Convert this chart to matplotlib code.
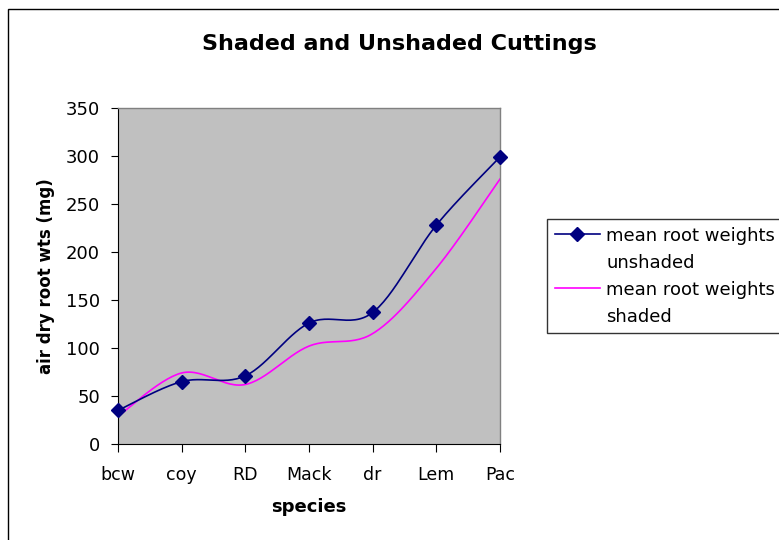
import numpy as np
import matplotlib
matplotlib.use("Agg")
import matplotlib.pyplot as plt
from matplotlib.patches import Rectangle
from matplotlib.lines import Line2D

categories = ["bcw", "coy", "RD", "Mack", "dr", "Lem", "Pac"]
unshaded = [35, 65, 71, 126, 137, 228, 299]
shaded = [29, 74, 62, 102, 115, 183, 276]
yticks = [0, 50, 100, 150, 200, 250, 300, 350]

plt.rcParams['font.family'] = ['DejaVu Sans']


def smooth(xs, ys, n=30):
    # Excel-style smoothed line: cubic Bezier with Catmull-Rom control points
    xs = np.asarray(xs, float)
    ys = np.asarray(ys, float)
    P = np.column_stack([xs, ys])
    m = len(P)
    out = [P[0]]
    t = np.linspace(0, 1, n)[1:]
    for i in range(m - 1):
        p0 = P[i - 1] if i > 0 else P[i]
        p3 = P[i + 2] if i + 2 < m else P[i + 1]
        c1 = P[i] + (P[i + 1] - p0) / 6.0
        c2 = P[i + 1] - (p3 - P[i]) / 6.0
        seg = ((1 - t) ** 3)[:, None] * P[i] + (3 * (1 - t) ** 2 * t)[:, None] * c1 \
            + (3 * (1 - t) * t ** 2)[:, None] * c2 + (t ** 3)[:, None] * P[i + 1]
        out.extend(seg)
    out = np.array(out)
    return out[:, 0], out[:, 1]


W, H = 779, 540
fig = plt.figure(figsize=(W / 100, H / 100), dpi=100)
fig.patch.set_facecolor('white')
fig.patches.append(Rectangle((8 / W, -0.1), 1.2, (H - 9) / H + 0.1,
                             transform=fig.transFigure, fill=False,
                             edgecolor='black', linewidth=1.0))

ax = fig.add_axes([118 / W, 96 / H, 382 / W, 336 / H])
ax.set_facecolor('#C0C0C0')

x = np.arange(len(categories))
sx, sy = smooth(x, unshaded)
ax.plot(sx, sy, color='#000080', linewidth=1.2, zorder=3)
ax.plot(x, unshaded, linestyle='none', marker='D', markersize=7.5,
        color='#000080', zorder=4, clip_on=False)
sx2, sy2 = smooth(x, shaded)
ax.plot(sx2, sy2, color='#FF00FF', linewidth=1.2, zorder=2)

ax.set_xlim(0, len(categories) - 1)
ax.set_ylim(0, 350)
ax.set_yticks(yticks)
ax.set_yticklabels([str(v) for v in yticks], fontsize=13)
ax.set_xticks(x)
ax.set_xticklabels(categories, fontsize=12.5)
ax.tick_params(axis='x', direction='out', length=6, pad=10, width=0.8)
ax.tick_params(axis='y', direction='out', length=5, pad=8, width=0.8)

for side in ['top', 'right']:
    ax.spines[side].set_color('#808080')
    ax.spines[side].set_linewidth(1.0)
for side in ['left', 'bottom']:
    ax.spines[side].set_color('black')
    ax.spines[side].set_linewidth(0.8)

ax.set_xlabel('species', fontsize=13, fontweight='bold', va='center')
ax.xaxis.set_label_coords(0.5, (444 - 507) / 336)
ax.set_ylabel('air dry root wts (mg)', fontsize=12, fontweight='bold', va='center')
ax.yaxis.set_label_coords((46 - 118) / 382, 0.5)

fig.text(399 / W, 1 - 50 / H, 'Shaded and Unshaded Cuttings', ha='center',
         va='baseline', fontsize=16, fontweight='bold')

# Legend (handle aligned with the first line of each entry, as in the original)
blank = Line2D([0], [0], linestyle='none', marker='none')
handles = [Line2D([0], [0], color='#000080', linewidth=1.2, marker='D', markersize=7),
           blank,
           Line2D([0], [0], color='#FF00FF', linewidth=1.2),
           blank]
labels = ['mean root weights', 'unshaded', 'mean root weights', 'shaded']
leg = fig.legend(handles, labels,
                 loc='upper left', bbox_to_anchor=(547 / W, 1 - 219 / H),
                 fontsize=13, frameon=True, fancybox=False, edgecolor='black',
                 handlelength=2.5, handletextpad=0.35, borderpad=0.42,
                 labelspacing=0.5, borderaxespad=0)
leg.get_frame().set_linewidth(1.0)

fig.savefig('out.png', dpi=100)
